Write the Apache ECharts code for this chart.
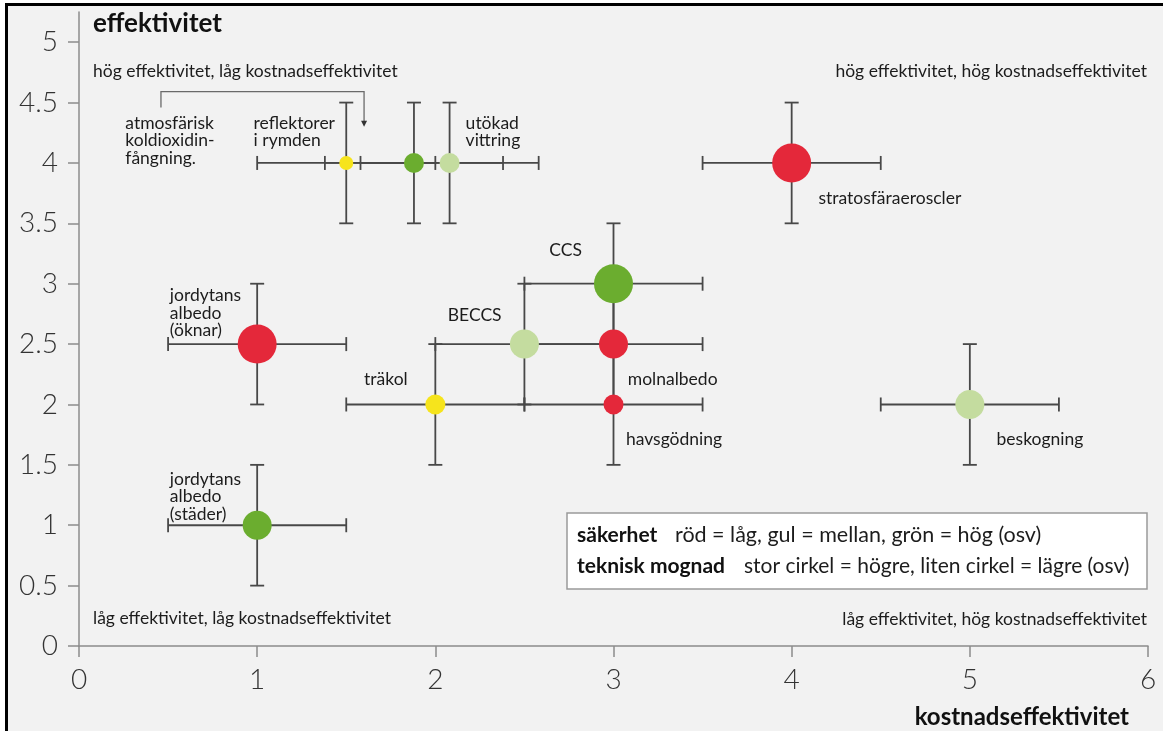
<!DOCTYPE html>
<html><head><meta charset="utf-8">
<script src="https://cdn.jsdelivr.net/npm/echarts@6/dist/echarts.min.js"></script>
<style>
html,body{margin:0;padding:0;background:#fff;width:1163px;height:731px;overflow:hidden}
#frame{position:absolute;left:5px;top:3px;width:1158px;height:728px;border-left:3px solid #000;border-top:3px solid #000;background:#f2f2f2;box-sizing:border-box}
#chart{position:absolute;left:0;top:0;width:1163px;height:731px}
</style></head><body><div id="frame"></div><div id="chart"></div>
<script>
// ---- data ----
const names = ['reflektorer i rymden','atmosfärisk koldioxidinfångning','utökad vittring','stratosfäraerosoler','CCS','jordytans albedo (öknar)','BECCS','molnalbedo','träkol','havsgödning','beskogning','jordytans albedo (städer)'];
const kostnadseffektivitet = [1.5, 1.88, 2.08, 4, 3, 1, 2.5, 3, 2, 3, 5, 1];
const effektivitet =         [4,   4,    4,    4, 3, 2.5, 2.5, 2.5, 2, 2, 2, 1];
const xSpread = [0.5,0.5,0.5,0.5,0.5,0.5,0.5,0.5,0.5,0.5,0.5,0.5];
const ySpread = [0.5,0.5,0.5,0.5,0.5,0.5,0.5,0.5,0.5,0.5,0.5,0.5];
const sakerhet = ['mellan','hög','mellan-hög','låg','hög','låg','mellan-hög','låg','mellan','låg','mellan-hög','hög'];
const mognad = [1,2,2,4,4,4,3,3,2,2,3,3];

const labelTexts = ['atmosfärisk\nkoldioxidin-\nfångning.','reflektorer\ni rymden','utökad\nvittring','stratosfäraeroscler','CCS','BECCS','träkol','jordytans\nalbedo\n(öknar)','molnalbedo','havsgödning','beskogning','jordytans\nalbedo\n(städer)'];
const labelX = [0.26, 0.98, 2.17, 4.15, 2.64, 2.07, 1.60, 0.51, 3.08, 3.07, 5.15, 0.51];
const labelY = [4.33, 4.33, 4.33, 3.71, 3.28, 2.74, 2.21, 2.90, 2.21, 1.71, 1.71, 1.38];

const bracketX = [0.46, 0.46, 1.60, 1.60];
const bracketY = [4.46, 4.59, 4.59, 4.30];

const xTicks = [0,1,2,3,4,5,6];
const yTicks = [0,0.5,1,1.5,2,2.5,3,3.5,4,4.5,5];

const quadrantTexts = ['hög effektivitet, låg kostnadseffektivitet','hög effektivitet, hög kostnadseffektivitet','låg effektivitet, låg kostnadseffektivitet','låg effektivitet, hög kostnadseffektivitet'];
const legendRows = [['säkerhet','röd = låg, gul = mellan, grön = hög (osv)'],['teknisk mognad','stor cirkel = högre, liten cirkel = lägre (osv)']];

// ---- styling maps ----
const colorMap = {'låg':'#e4283a','mellan':'#f6e41c','hög':'#6bad2f','mellan-hög':'#c4dc9f'};
const sizeMap = {1:14, 2:20, 3:29, 4:39};
const FONT = 'Lato, "Open Sans", sans-serif';
const TXT = '#1c1c1c';

const errData = kostnadseffektivitet.map((x,i)=>[x, effektivitet[i], x-xSpread[i], x+xSpread[i], effektivitet[i]-ySpread[i], effektivitet[i]+ySpread[i]]);
const dotData = kostnadseffektivitet.map((x,i)=>({name:names[i], value:[x, effektivitet[i]], symbolSize:sizeMap[mognad[i]], itemStyle:{color:colorMap[sakerhet[i]]}}));
const lblData = labelTexts.map((t,i)=>[labelX[i], labelY[i], t]);
const brData = bracketX.map((x,i)=>[x, bracketY[i]]);

const chart = echarts.init(document.getElementById('chart'), null, {renderer:'canvas'});
const axisLineStyle = {color:'#8c8c8c', width:1.5};
const LH = 17.5;
const option = {
  backgroundColor:'transparent',
  animation:false,
  grid:{left:79, right:15, top:12, bottom:85},
  xAxis:{type:'value', min:0, max:6, interval:1,
    axisLine:{show:true, lineStyle:axisLineStyle},
    axisTick:{show:true, length:11, lineStyle:axisLineStyle},
    axisLabel:{fontSize:28, fontWeight:300, fontFamily:FONT, color:'#333', margin:20},
    splitLine:{show:false}},
  yAxis:{type:'value', min:0, max:5.25,
    axisLine:{show:true, lineStyle:axisLineStyle},
    axisTick:{show:true, length:11, lineStyle:axisLineStyle, customValues:yTicks},
    axisLabel:{fontSize:28, fontWeight:300, fontFamily:FONT, color:'#333', margin:21, customValues:yTicks},
    splitLine:{show:false}},
  series:[
    {type:'custom', z:2, data:errData, encode:{x:[0,2,3], y:[1,4,5]}, clip:false,
     renderItem:function(params, api){
       const x=api.value(0), y=api.value(1);
       const l=api.coord([api.value(2),y]), r=api.coord([api.value(3),y]);
       const b=api.coord([x,api.value(4)]), t=api.coord([x,api.value(5)]);
       const st={stroke:'#484848', lineWidth:1.8};
       const c=7;
       const ln=(x1,y1,x2,y2)=>({type:'line', shape:{x1,y1,x2,y2}, style:st});
       return {type:'group', children:[
         ln(l[0],l[1],r[0],r[1]),
         ln(l[0],l[1]-c,l[0],l[1]+c),
         ln(r[0],r[1]-c,r[0],r[1]+c),
         ln(b[0],b[1],t[0],t[1]),
         ln(b[0]-c,b[1],b[0]+c,b[1]),
         ln(t[0]-c,t[1],t[0]+c,t[1])
       ]};
     }},
    {type:'scatter', z:3, data:dotData, symbol:'circle', itemStyle:{opacity:1}},
    {type:'custom', z:4, data:lblData, encode:{x:0, y:1}, clip:false,
     renderItem:function(params, api){
       const p=api.coord([api.value(0), api.value(1)]);
       return {type:'text', x:p[0], y:p[1]-LH/2, style:{text:lblData[params.dataIndex][2], font:'17.5px '+FONT, fill:TXT, lineHeight:LH, textAlign:'left', textVerticalAlign:'top'}};
     }},
    {type:'custom', z:4, data:[0], clip:false, coordinateSystem:'cartesian2d', encode:{x:0},
     renderItem:function(params, api){
       const pts=brData.map(d=>api.coord(d));
       const e=pts[pts.length-1];
       return {type:'group', children:[
         {type:'polyline', shape:{points:pts.slice(0,3).concat([[e[0], e[1]-5]])}, style:{stroke:'#6a6a6a', lineWidth:1.3, fill:null}},
         {type:'polygon', shape:{points:[[e[0]-3,e[1]-6],[e[0]+3,e[1]-6],[e[0],e[1]]]}, style:{fill:'#333'}}
       ]};
     }}
  ],
  graphic:[
    {type:'text', x:93, y:24, style:{text:'effektivitet', font:'bold 26px '+FONT, fill:'#111', textVerticalAlign:'middle'}},
    {type:'text', x:1129, y:717, style:{text:'kostnadseffektivitet', font:'bold 24px '+FONT, fill:'#111', textAlign:'right', textVerticalAlign:'middle'}},
    {type:'text', x:93, y:71, style:{text:quadrantTexts[0], font:'17.5px '+FONT, fill:TXT, textVerticalAlign:'middle'}},
    {type:'text', x:1147, y:71, style:{text:quadrantTexts[1], font:'17.5px '+FONT, fill:TXT, textAlign:'right', textVerticalAlign:'middle'}},
    {type:'text', x:93, y:618, style:{text:quadrantTexts[2], font:'17.5px '+FONT, fill:TXT, textVerticalAlign:'middle'}},
    {type:'text', x:1147, y:619, style:{text:quadrantTexts[3], font:'17.5px '+FONT, fill:TXT, textAlign:'right', textVerticalAlign:'middle'}},
    {type:'rect', shape:{x:567, y:513, width:580, height:76}, style:{fill:'#fff', stroke:'#9a9a9a', lineWidth:1.5}},
    {type:'text', x:577, y:535, style:{text:legendRows[0][0], font:'bold 21px '+FONT, fill:'#111', textVerticalAlign:'middle'}},
    {type:'text', x:675, y:535, style:{text:legendRows[0][1], font:'21.5px '+FONT, fill:TXT, textVerticalAlign:'middle'}},
    {type:'text', x:577, y:566, style:{text:legendRows[1][0], font:'bold 21px '+FONT, fill:'#111', textVerticalAlign:'middle'}},
    {type:'text', x:744, y:566, style:{text:legendRows[1][1], font:'21px '+FONT, fill:TXT, textVerticalAlign:'middle'}}
  ]
};
chart.setOption(option);
</script></body></html>
